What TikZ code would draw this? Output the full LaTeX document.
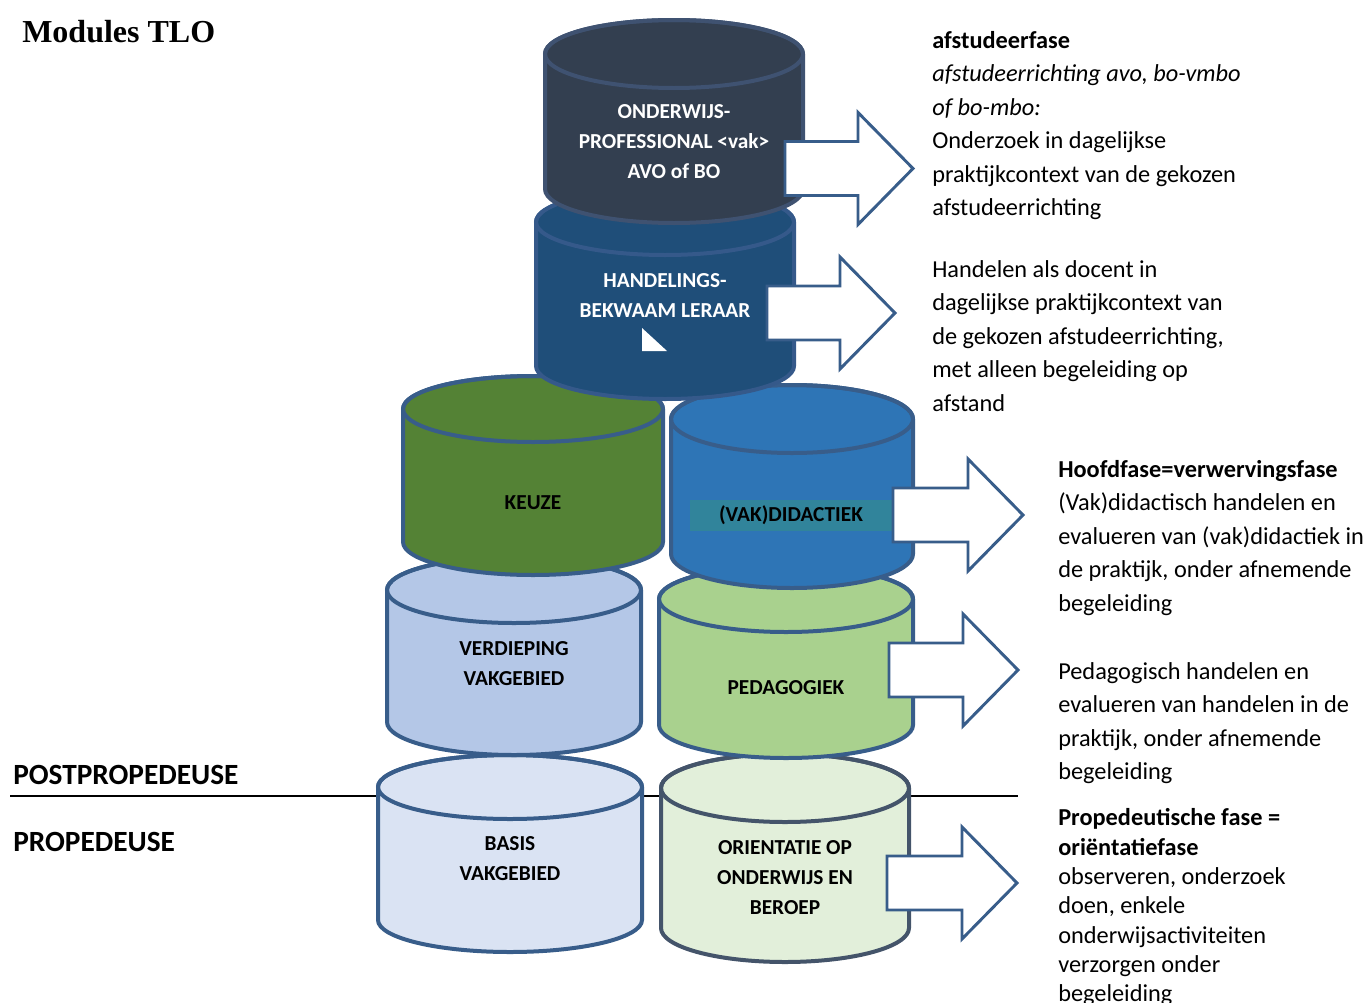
\documentclass[tikz,border=0pt]{standalone}
\usepackage{fontspec}
\setmainfont{Carlito}
\newfontfamily\titlefont{Liberation Serif}
\usepackage{tikz}
\definecolor{darkslate}{HTML}{333F50}
\definecolor{darkslateline}{HTML}{3F5271}
\definecolor{deepblue}{HTML}{1F4E79}
\definecolor{deepblueline}{HTML}{35598A}
\definecolor{modgreen}{HTML}{548235}
\definecolor{midblue}{HTML}{2E75B6}
\definecolor{bandteal}{HTML}{31849B}
\definecolor{paleblue}{HTML}{B4C7E7}
\definecolor{palegreen}{HTML}{A9D18E}
\definecolor{lightblue}{HTML}{DAE3F3}
\definecolor{lightgreen}{HTML}{E2EFDA}
\definecolor{greyline}{HTML}{44546A}
\definecolor{outblue}{HTML}{385D8A}
\tikzset{
  cylline/.style={line width=3pt},
  arr/.style={draw=outblue, fill=white, line width=2.2pt, line join=miter},
  cyltxt/.style={font=\bfseries\fontsize{16}{22.5}\selectfont, align=center, inner sep=0pt},
  sidetxt/.style={font=\fontsize{18.25}{25.1}\selectfont, align=left, anchor=north west, inner sep=0pt},
  phase/.style={font=\bfseries\fontsize{22}{26}\selectfont, anchor=west, inner sep=0pt},
}
% cylinder: cx, top y, bottom y, x radius, y radius, fill, line
\newcommand{\modcyl}[7]{%
  \filldraw[fill=#6, draw=#7, cylline] (#1-#4,-#2) -- (#1-#4,-#3)
    arc[start angle=180, end angle=360, x radius=#4, y radius=#5] -- (#1+#4,-#2)
    arc[start angle=0, end angle=180, x radius=#4, y radius=#5] -- cycle;
  \draw[draw=#7, cylline] (#1,-#2) ellipse [x radius=#4, y radius=#5];
}
% block arrow: shaft start x, centre y, head base x, tip x
\newcommand{\blockarr}[4]{%
  \draw[arr] (#1,-#2+27) -- (#3,-#2+27) -- (#3,-#2+56) -- (#4,-#2)
    -- (#3,-#2-56) -- (#3,-#2-27) -- (#1,-#2-27) -- cycle;
}

\begin{document}
\begin{tikzpicture}[x=0.75pt,y=0.75pt]
  \useasboundingbox (0,0) rectangle (1364,-1003);
  \node[anchor=west, font=\titlefont\bfseries\fontsize{24}{28}\selectfont, inner sep=0pt] (title) at (22,-32) {Modules TLO};

  % phase divider
  \draw[line width=1.5pt] (10,-796) -- (1018,-796);
  \node[phase] (post) at (13,-775) {POSTPROPEDEUSE};
  \node[phase] (prop) at (13,-842) {PROPEDEUSE};

  % stack, from the bottom up
  \modcyl{510}{787}{920}{132}{32}{lightblue}{outblue}
  \node[cyltxt] (basis) at (510,-859) {BASIS\\VAKGEBIED};
  \modcyl{785}{788}{928}{124}{34}{lightgreen}{greyline}
  \node[cyltxt] (orient) at (785,-878) {ORIENTATIE OP\\ONDERWIJS EN\\BEROEP};
  \modcyl{514}{590}{722}{127}{33}{paleblue}{outblue}
  \node[cyltxt] (verdiep) at (514,-664) {VERDIEPING\\VAKGEBIED};
  \modcyl{786}{599}{725}{127}{33}{palegreen}{outblue}
  \node[cyltxt] (pedag) at (786,-688) {PEDAGOGIEK};
  \modcyl{533}{409}{542}{130}{33}{modgreen}{outblue}
  \node[cyltxt] (keuze) at (533,-503) {KEUZE};
  \modcyl{792}{419}{554}{121}{34}{midblue}{outblue}
  \fill[bandteal] (690,-500) rectangle (893,-531);
  \node[cyltxt] (vakdid) at (791,-515) {(VAK)DIDACTIEK};
  \modcyl{665}{222}{366}{129}{33}{deepblue}{deepblueline}
  \node[cyltxt, text=white] (handel) at (665,-296) {HANDELINGS-\\BEKWAAM LERAAR};
  \fill[white] (642,-328) -- (642,-351) -- (667,-351) -- cycle;
  \modcyl{674}{54}{189}{129}{34}{darkslate}{darkslateline}
  \node[cyltxt, text=white] (onderw) at (674,-142) {ONDERWIJS-\\PROFESSIONAL <vak>\\AVO of BO};

  % arrows
  \blockarr{785}{168.5}{858}{913}
  \blockarr{767}{313}{840}{895}
  \blockarr{893}{515}{968}{1023}
  \blockarr{889}{670}{963}{1018}
  \blockarr{887}{883}{962}{1017}

  % side texts
  \node[sidetxt] (afstud) at (932,-31) {\textbf{afstudeerfase}\\\textit{afstudeerrichting avo, bo-vmbo}\\\textit{of bo-mbo:}\\Onderzoek in dagelijkse\\praktijkcontext van de gekozen\\afstudeerrichting};
  \node[sidetxt] (docent) at (932,-260) {Handelen als docent in\\dagelijkse praktijkcontext van\\de gekozen afstudeerrichting,\\met alleen begeleiding op\\afstand};
  \node[sidetxt] (hoofd) at (1058,-460) {\textbf{Hoofdfase=verwervingsfase}\\(Vak)didactisch handelen en\\evalueren van (vak)didactiek in\\de praktijk, onder afnemende\\begeleiding};
  \node[sidetxt] (pedtxt) at (1058,-662) {Pedagogisch handelen en\\evalueren van handelen in de\\praktijk, onder afnemende\\begeleiding};
  \node[sidetxt, font=\fontsize{18.25}{22}\selectfont] (oriet) at (1058,-808.5) {\textbf{Propedeutische fase =}\\\textbf{oriëntatiefase}\\observeren, onderzoek\\doen, enkele\\onderwijsactiviteiten\\verzorgen onder\\begeleiding};
\end{tikzpicture}
\end{document}
